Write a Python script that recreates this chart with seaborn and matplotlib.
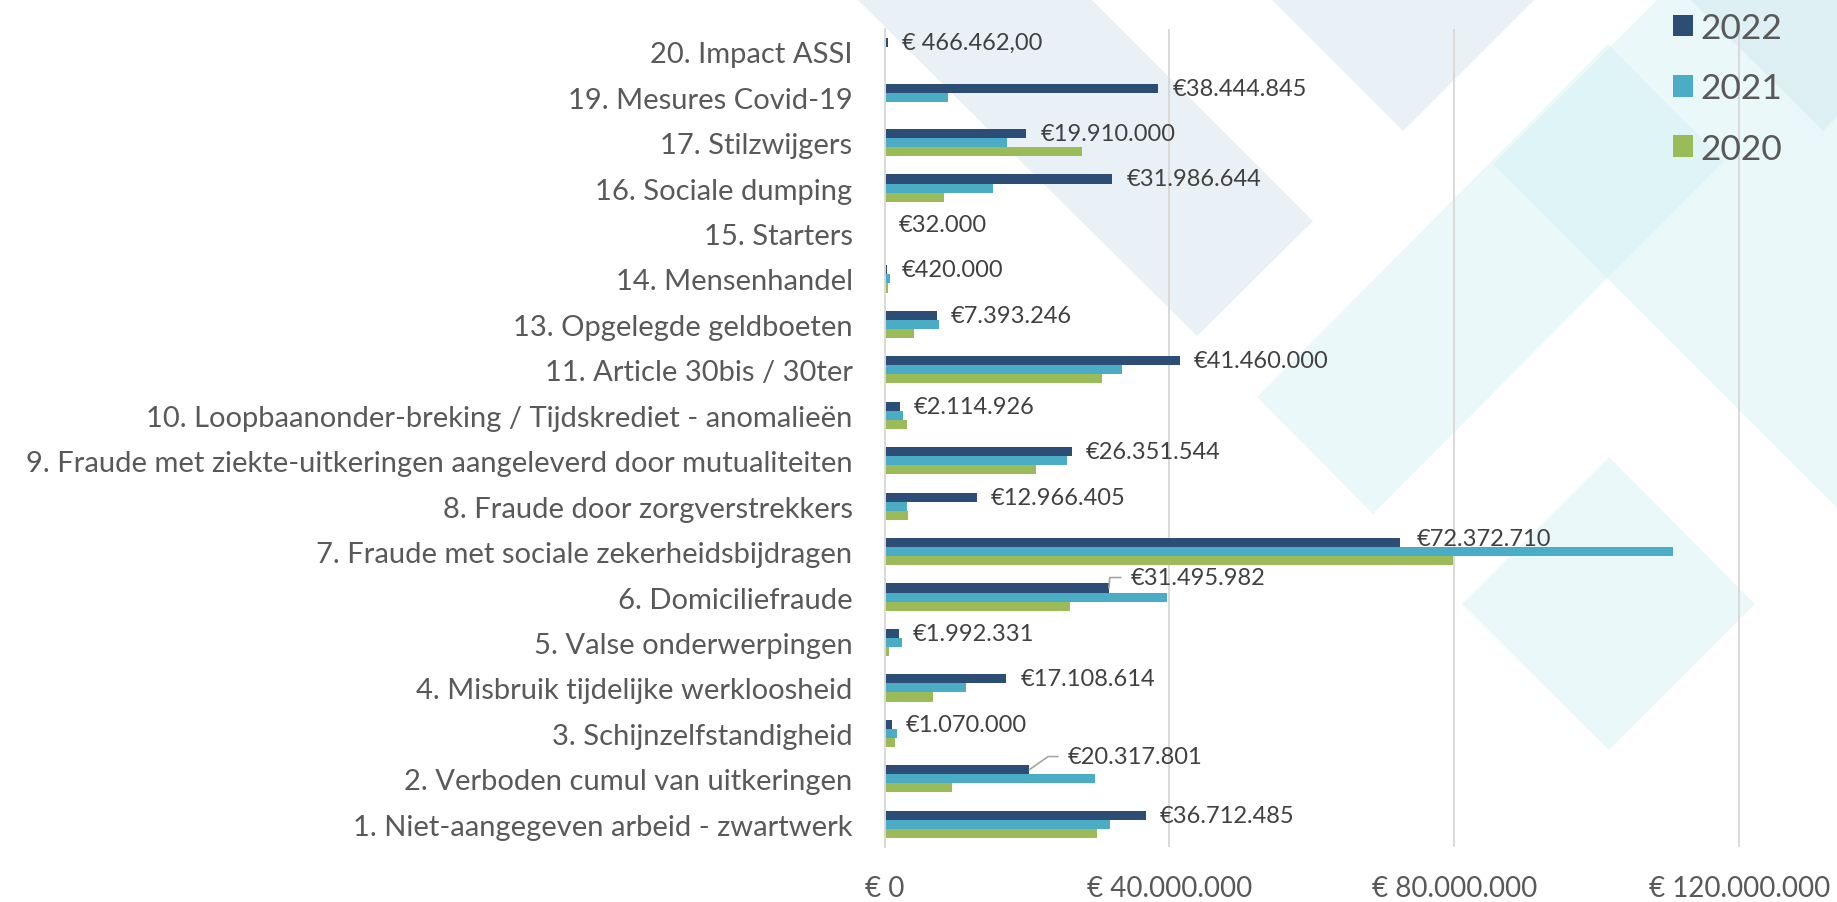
import numpy as np
import pandas as pd
import matplotlib
matplotlib.use("Agg")
import matplotlib.pyplot as plt
from matplotlib.patches import Polygon, Patch
import seaborn as sns

# categories from top to bottom
categories = [
    "20. Impact ASSI",
    "19. Mesures Covid-19",
    "17. Stilzwijgers",
    "16. Sociale dumping",
    "15. Starters",
    "14. Mensenhandel",
    "13. Opgelegde geldboeten",
    "11. Article 30bis / 30ter",
    "10. Loopbaanonder-breking / Tijdskrediet - anomalieën",
    "9. Fraude met ziekte-uitkeringen aangeleverd door mutualiteiten",
    "8. Fraude door zorgverstrekkers",
    "7. Fraude met sociale zekerheidsbijdragen",
    "6. Domiciliefraude",
    "5. Valse onderwerpingen",
    "4. Misbruik tijdelijke werkloosheid",
    "3. Schijnzelfstandigheid",
    "2. Verboden cumul van uitkeringen",
    "1. Niet-aangegeven arbeid - zwartwerk",
]
years = ["2022", "2021", "2020"]

v2022 = [466462, 38444845, 19910000, 31986644, 32000, 420000, 7393246, 41460000,
         2114926, 26351544, 12966405, 72372710, 31495982, 1992331, 17108614,
         1070000, 20317801, 36712485]
# 2021 / 2020 (no labels in the picture)
v2021 = [0, 8.9e6, 17.2e6, 15.3e6, 0, 0.74e6, 7.6e6, 33.3e6, 2.6e6, 25.6e6,
         3.1e6, 110.7e6, 39.7e6, 2.4e6, 11.4e6, 1.8e6, 29.6e6, 31.7e6]
v2020 = [0, 0, 27.7e6, 8.3e6, 0, 0.5e6, 4.1e6, 30.5e6, 3.2e6, 21.3e6,
         3.3e6, 79.8e6, 26.1e6, 0.65e6, 6.8e6, 1.5e6, 9.5e6, 29.8e6]

labels_2022 = ["€ 466.462,00", "€38.444.845", "€19.910.000", "€31.986.644",
               "€32.000", "€420.000", "€7.393.246", "€41.460.000", "€2.114.926",
               "€26.351.544", "€12.966.405", "€72.372.710", "€31.495.982",
               "€1.992.331", "€17.108.614", "€1.070.000", "€20.317.801",
               "€36.712.485"]

xticks = [0, 40e6, 80e6, 120e6]
xtick_labels = ["€ 0", "€ 40.000.000", "€ 80.000.000", "€ 120.000.000"]

colors = ["#2C4D76", "#4BACC6", "#9BBB59"]

df = pd.DataFrame({
    "category": categories * 3,
    "year": [y for y in years for _ in categories],
    "value": v2022 + v2021 + v2020,
})

sns.set_theme(style="white")
plt.rcParams["font.family"] = ["Lato", "DejaVu Sans"]

W, H = 1837, 903
fig = plt.figure(figsize=(W / 100, H / 100), dpi=100)
fig.patch.set_facecolor("white")

# decorative diamonds in the background (pixel coords, y from top)
grey = "#cfdeeb"
cyan = "#d0eff5"
shapes = [
    ([(857, 0), (1091, 0), (1313, 222), (1197, 337)], grey),
    ([(1271, 0), (1535, 0), (1403, 132)], grey),
    ([(1690, 0), (1837, 0), (1837, 118), (1823, 132)], grey),
    ([(1257, 398), (1608, 45), (1724, 162), (1373, 515)], cyan),
    ([(1493, 165), (1658, 0), (1837, 0), (1837, 509)], cyan),
    ([(1462, 605), (1609, 458), (1755, 605), (1609, 751)], cyan),
]
for pts, c in shapes:
    fig.add_artist(Polygon([(x / W, 1 - y / H) for x, y in pts], closed=True,
                           transform=fig.transFigure, facecolor=c, alpha=0.42,
                           edgecolor="none", zorder=-5))

ax = fig.add_axes([884.5 / W, 1 - 848 / H, 1 - 884.5 / W, (848 - 30) / H])
ax.patch.set_alpha(0)

sns.barplot(data=df, x="value", y="category", hue="year", order=categories,
            hue_order=years, palette=colors, width=0.6, orient="h",
            errorbar=None, saturation=1, legend=False, ax=ax, linewidth=0)

ax.set_xlim(0, 133.7e6)
ax.set_xticks(xticks)
ax.set_xticklabels(xtick_labels)
ax.set_xlabel("")
ax.set_ylabel("")
ax.tick_params(axis="x", length=0, pad=20, labelsize=20, labelcolor="#595959")
ax.tick_params(axis="y", which="major", length=0, pad=23, labelsize=21,
               labelcolor="#595959")
ax.set_yticks(np.arange(-0.5, len(categories), 1), minor=True)
ax.tick_params(axis="y", which="minor", length=7, width=1.3, color="#D9D9D9")
ax.xaxis.grid(True, color="#D9D9D9", lw=1.4)
ax.set_axisbelow(True)
for s in ["top", "right", "bottom"]:
    ax.spines[s].set_visible(False)
ax.spines["left"].set_color("#D9D9D9")
ax.spines["left"].set_linewidth(1.4)

# data labels on the 2022 bars
offsets = {11: (12, 3), 12: (16, 7.5), 16: (28, 9.5)}
leaders = {12: 85, 16: 35}
for i, (bar, lab) in enumerate(zip(ax.containers[0], labels_2022)):
    x = bar.get_width()
    y = bar.get_y() + bar.get_height() / 2
    dx, dy = offsets.get(i, (10, 0))
    arrow = None
    if i in leaders:
        arrow = dict(arrowstyle="-", color="#A6A6A6", lw=1.2, shrinkA=5,
                     shrinkB=0, relpos=(0, 0.5),
                     connectionstyle=f"angle,angleA=0,angleB={leaders[i]},rad=0")
    ax.annotate(lab, xy=(x, y), xytext=(dx, dy), textcoords="offset points",
                ha="left", va="center", fontsize=17, color="#404040",
                arrowprops=arrow)

handles = [Patch(facecolor=c, edgecolor="none") for c in colors]
fig.legend(handles, years, loc="upper left", bbox_to_anchor=(1673 / W, 1 - 13 / H),
           frameon=False, fontsize=25.5, labelcolor="#595959", handlelength=0.56,
           handleheight=0.56, handletextpad=0.22, labelspacing=0.8,
           borderpad=0, borderaxespad=0)

fig.savefig("out.png", dpi=100)
